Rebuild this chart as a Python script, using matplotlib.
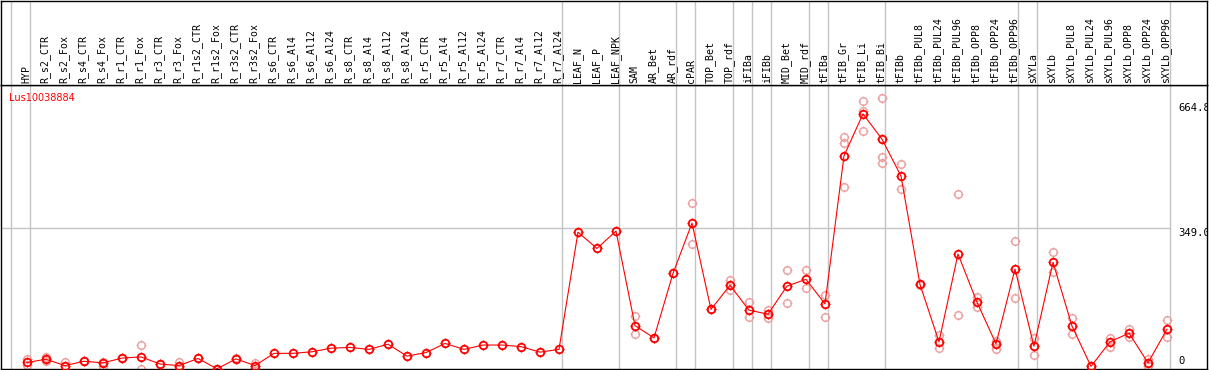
import matplotlib
matplotlib.use("Agg")
import matplotlib.pyplot as plt
from matplotlib.path import Path

# column labels
samples = ["HYP", "R_s2_CTR", "R_s2_Fox", "R_s4_CTR", "R_s4_Fox", "R_r1_CTR", "R_r1_Fox",
           "R_r3_CTR", "R_r3_Fox", "R_r1s2_CTR", "R_r1s2_Fox", "R_r3s2_CTR", "R_r3s2_Fox",
           "R_s6_CTR", "R_s6_Al4", "R_s6_Al12", "R_s6_Al24", "R_s8_CTR", "R_s8_Al4",
           "R_s8_Al12", "R_s8_Al24", "R_r5_CTR", "R_r5_Al4", "R_r5_Al12", "R_r5_Al24",
           "R_r7_CTR", "R_r7_Al4", "R_r7_Al12", "R_r7_Al24", "LEAF_N", "LEAF_P", "LEAF_NPK",
           "SAM", "AR_Bet", "AR_rdf", "cPAR", "TOP_Bet", "TOP_rdf", "iFIBa", "iFIBb",
           "MID_Bet", "MID_rdf", "tFIBa", "tFIB_Gr", "tFIB_Li", "tFIB_Bi", "tFIBb",
           "tFIBb_PUL8", "tFIBb_PUL24", "tFIBb_PUL96", "tFIBb_OPP8", "tFIBb_OPP24",
           "tFIBb_OPP96", "sXYLa", "sXYLb", "sXYLb_PUL8", "sXYLb_PUL24", "sXYLb_PUL96",
           "sXYLb_OPP8", "sXYLb_OPP24", "sXYLb_OPP96"]

# mean expression per sample
means = [10, 18, 2, 13, 9, 21, 24, 6, 2, 20, -6, 19, 2,
         33, 33, 37, 46, 48, 43, 56, 26, 35, 58, 43, 54, 54, 50, 36, 43,
         339, 298, 342,
         103, 72, 235, 362, 144, 205, 142, 132, 203, 220, 158,
         532, 638, 574, 481, 207, 62, 284, 162, 57, 246,
         51, 263, 102, 0, 62, 84, 9, 94]

# replicate values (only the visible ones)
reps = [[19, 4], [24, 14], [10], [13], [2, 12], [22], [53, -7], [6], [10, -2], [22], [-6],
        [21], [9, -4],
        [], [], [], [], [], [], [], [], [], [], [], [], [], [], [], [],
        [], [], [],
        [127, 81], [72], [235], [412, 308], [144], [218, 193], [162, 124], [142, 123],
        [243, 159], [243, 197], [180, 124],
        [580, 564, 453], [670, 645, 594], [677, 529, 513], [511, 447], [205, 209],
        [79, 46], [435, 130], [175, 149], [64, 44], [317, 172],
        [71, 28], [288, 239], [122, 82], [2], [71, 50], [94, 74], [19, 1], [116, 74]]

# group boundaries (after these columns)
group_ends = [-1, 0, 28, 31, 34, 35, 37, 38, 39, 41, 42, 45, 52, 53, 60]
ref_vals = [664.8, 349.0, 0]
gene = "Lus10038884"

W, H = 1209, 370
fig = plt.figure(figsize=(W / 100, H / 100), dpi=100)
ax = fig.add_axes([1 / W, 1 / H, 1206 / W, 284 / H])
hdr = fig.add_axes([1 / W, 285 / H, 1206 / W, 84.5 / H])

xlo, xhi = (1 - 27) / 19, (1207 - 27) / 19
ylo, yhi = (366.4 - 369) / 0.3958, (366.4 - 85) / 0.3958
for a in (ax, hdr):
    a.set_xlim(xlo, xhi)
    a.set_xticks([])
    a.set_yticks([])
    for s in a.spines.values():
        s.set_linewidth(1.0)
        s.set_color("black")
    for g in group_ends:
        a.axvline(g + 0.18, color="#c4c4c4", lw=1.0, zorder=1)
ax.set_ylim(ylo, yhi)
hdr.set_ylim(0, 1)

ax.hlines(349.0, xlo, group_ends[-1] + 0.18, color="#c4c4c4", lw=1.0, zorder=1)

# little tick marks around circles
tick = Path([(0, 0.8), (0, 1.3), (0, -0.8), (0, -1.3), (0.8, 0), (1.3, 0), (-0.8, 0), (-1.3, 0)],
            [Path.MOVETO, Path.LINETO] * 4)

xs = list(range(len(samples)))
rx, ry = [], []
for i, r in enumerate(reps):
    for v in r:
        rx.append(i)
        ry.append(v)
ax.plot(rx, ry, ls="none", marker="o", ms=5.5, mfc="none", mec="#ec9c9c", mew=1.0, zorder=2)
ax.plot(rx, ry, ls="none", marker=tick, ms=7, mec="#ec9c9c", mew=0.7, zorder=2)
ax.plot(xs, means, color="red", lw=0.8, zorder=3)
ax.plot(xs, means, ls="none", marker="o", ms=5.5, mfc="none", mec="red", mew=1.3, zorder=4)
ax.plot(xs, means, ls="none", marker=tick, ms=7, mec="red", mew=0.8, zorder=4)

for i, name in enumerate(samples):
    hdr.text(i - 0.05, 2 / 84.5, name, rotation=90, ha="center", va="bottom",
             fontsize=7.1, family="DejaVu Sans Mono")

xr = (1178 - 27) / 19
for v in ref_vals:
    ax.text(xr, v, "%.1f" % v if v else "0", ha="left", va="top" if v else "bottom",
            fontsize=7.6, family="DejaVu Sans Mono", clip_on=True)

fig.text(9.3 / W, 1 - 97.7 / H, gene, color="red", fontsize=7, ha="left", va="center")

fig.savefig("out.png", dpi=100)
